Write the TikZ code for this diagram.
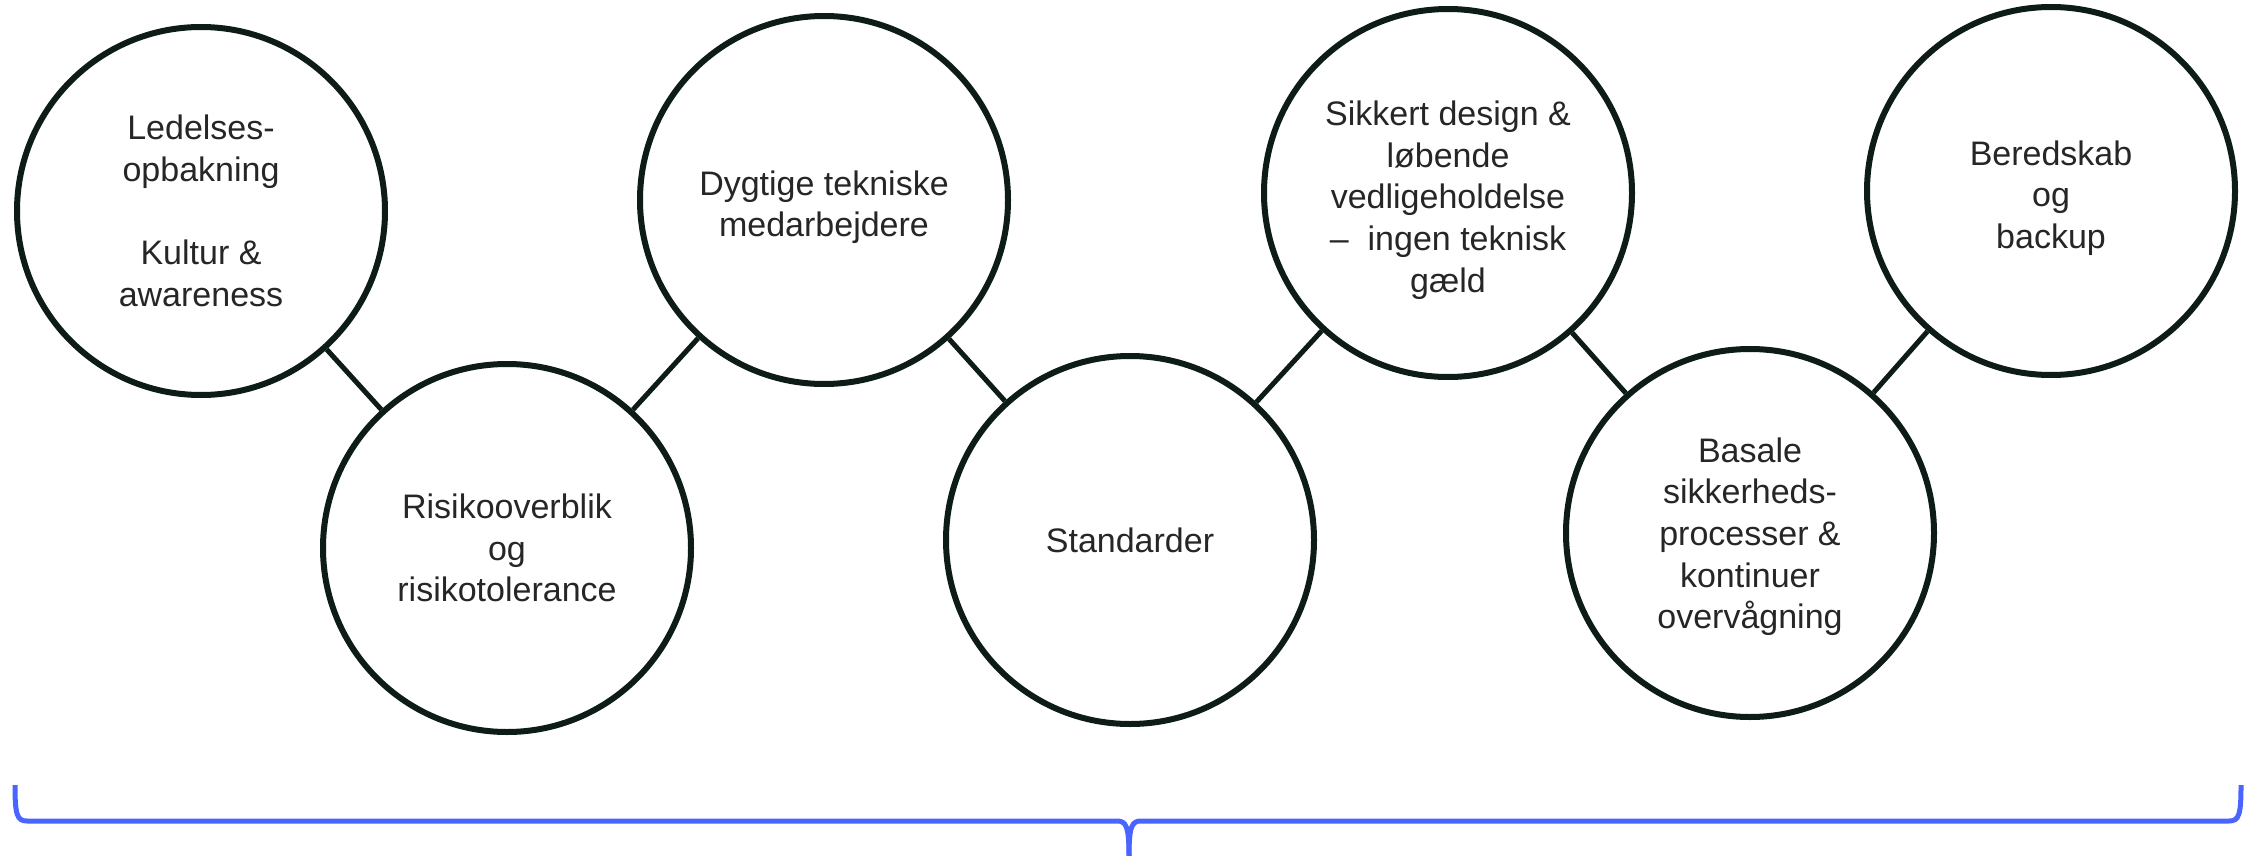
\documentclass[tikz,border=0pt]{standalone}
\usepackage{fontspec}
\setmainfont{Liberation Sans}
\definecolor{ring}{HTML}{0E1C18}
\definecolor{ink}{HTML}{262626}
\definecolor{bracecol}{HTML}{4A64FF}
% invisible strut that lowers a label inside its ring
\newcommand{\droptext}[1]{\rule{0pt}{#1}}
\begin{document}
\begin{tikzpicture}[x=0.5pt,y=-0.5pt,
  pillar/.style={circle, draw=ring, line width=3pt, fill=white,
    minimum size=184pt, inner sep=0pt, align=center, text=ink,
    font=\fontsize{17pt}{20.8pt}\selectfont},
  link/.style={draw=ring, line width=2.5pt},
  bracket/.style={draw=bracecol, line width=2.5pt}]
\useasboundingbox (0,0) rectangle (2259,856);

% the seven pillars, alternating high and low
\node[pillar] (c1) at (201,211) {Ledelses-\\opbakning\\[20.8pt]Kultur \&\\awareness};
\node[pillar] (c2) at (507,548) {Risikooverblik\\og\\risikotolerance};
\node[pillar] (c3) at (824,200) {\droptext{19.5pt}Dygtige tekniske\\medarbejdere};
\node[pillar] (c4) at (1130,540) {Standarder};
\node[pillar] (c5) at (1448,193) {\droptext{19.5pt}Sikkert design \&\\løbende\\vedligeholdelse\\\textendash\ \ ingen teknisk\\gæld};
\node[pillar] (c6) at (1750,533) {\droptext{16pt}Basale\\sikkerheds-\\processer \&\\kontinuer\\overvågning};
\node[pillar] (c7) at (2051,191) {\droptext{19.5pt}Beredskab\\og\\backup};

% links between neighbouring pillars
\draw[link] (c1) -- (c2);
\draw[link] (c2) -- (c3);
\draw[link] (c3) -- (c4);
\draw[link] (c4) -- (c5);
\draw[link] (c5) -- (c6);
\draw[link] (c6) -- (c7);

% curly brace spanning all pillars
\draw[bracket] (15,785) .. controls (15,815) and (17,821) .. (27,821)
  -- (1117,821) .. controls (1126,821) and (1129,826) .. (1129,856);
\draw[bracket] (1129,856) .. controls (1129,826) and (1132,821) .. (1141,821)
  -- (2229,821) .. controls (2239,821) and (2241,815) .. (2241,785);
\end{tikzpicture}
\end{document}
